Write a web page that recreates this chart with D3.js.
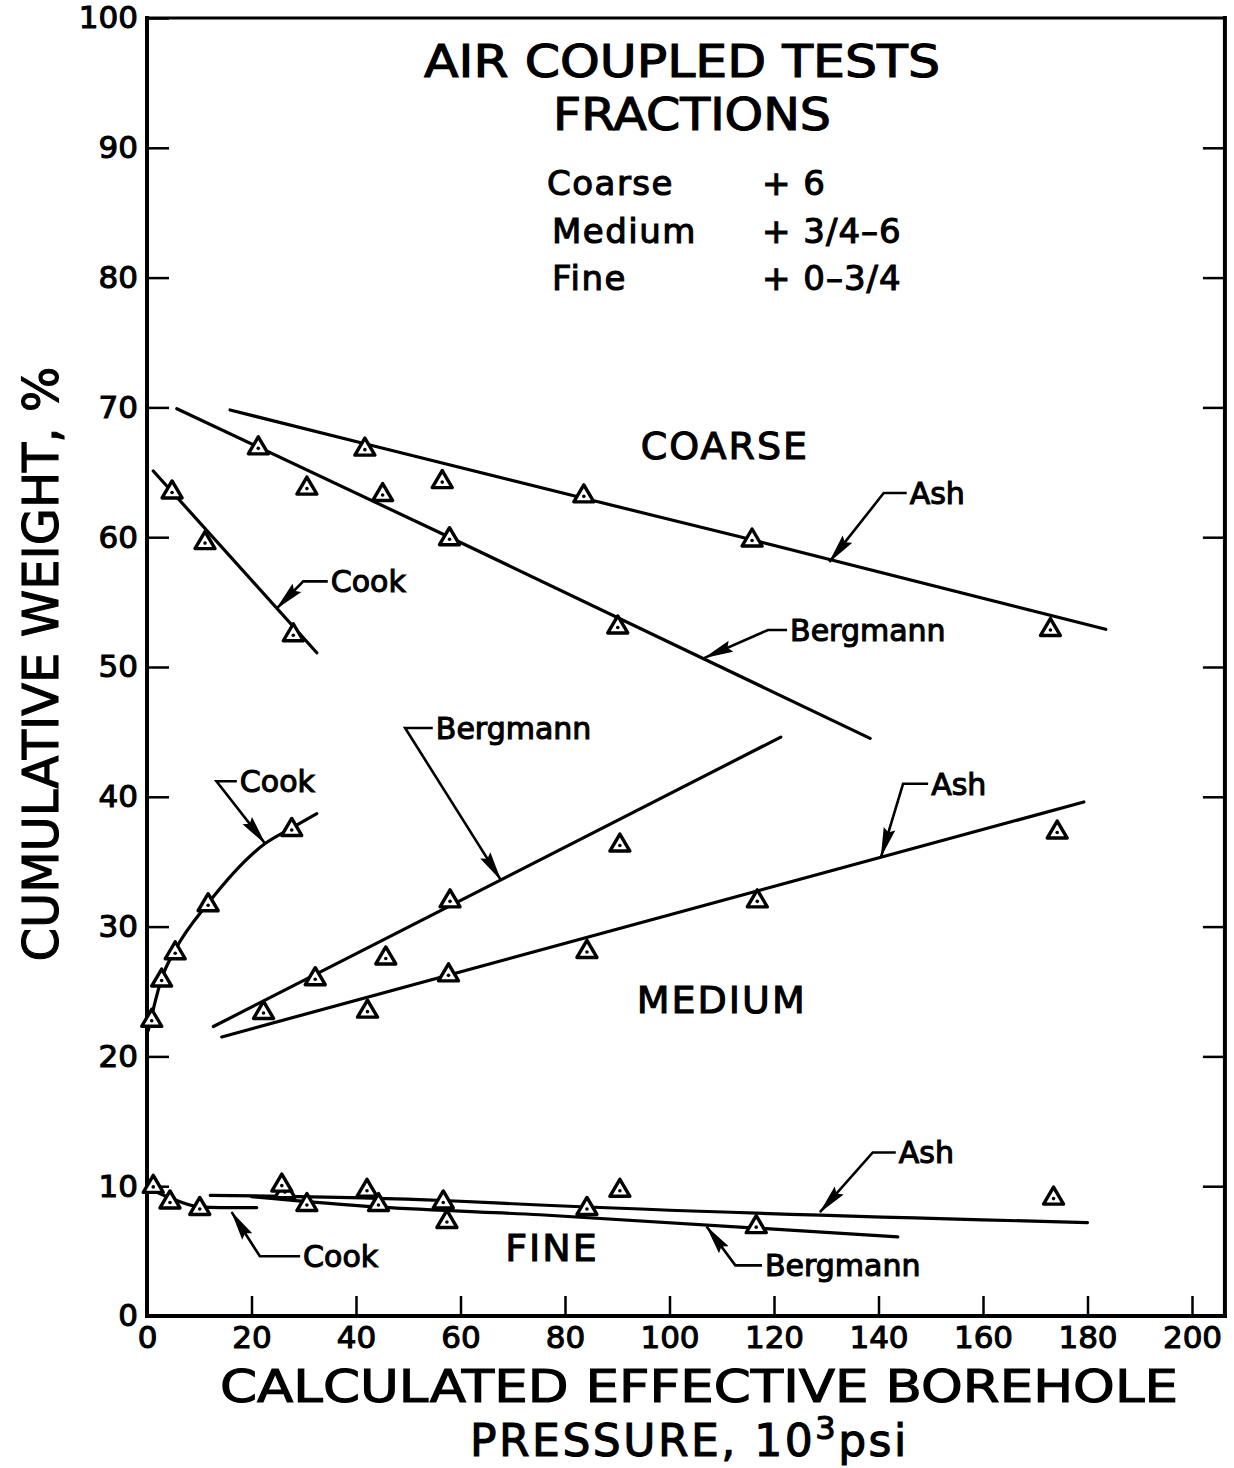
<!DOCTYPE html>
<html>
<head>
<meta charset="utf-8">
<script src="https://cdn.jsdelivr.net/npm/d3@7"></script>
<style>
  html, body { margin: 0; padding: 0; background: #fff; }
  svg { display: block; }
  text { font-family: "DejaVu Sans", sans-serif; fill: #000; stroke: #000; stroke-width: 1.1px; }
</style>
</head>
<body>
<script>
// ---------------- DATA (x = 10^3 psi, y = cumulative weight %) ----------------
const xTickValues = [0, 20, 40, 60, 80, 100, 120, 140, 160, 180, 200];
const yTickValues = [0, 10, 20, 30, 40, 50, 60, 70, 80, 90, 100];
const rightTickValues = [10, 20, 30, 40, 50, 60, 70, 80, 90];
const xFrameMax = 206.3;

// measured points (triangles)
const coarseCookPts = [[4.8, 63.6], [11.1, 59.7], [28.0, 52.6]];
const coarseBergmannPts = [[21.3, 67.0], [30.6, 63.9], [45.1, 63.4], [57.9, 60.0], [90.1, 53.2]];
const coarseAshPts = [[41.7, 66.9], [56.5, 64.4], [83.6, 63.3], [115.8, 59.9], [172.9, 53.0]];
const mediumCookPts = [[0.9, 22.9], [2.8, 26.0], [5.4, 28.1], [11.7, 31.8], [27.7, 37.6]];
const mediumBergmannPts = [[22.3, 23.5], [32.2, 26.1], [45.7, 27.7], [58.0, 32.1], [90.5, 36.4]];
const mediumAshPts = [[42.2, 23.6], [57.7, 26.4], [84.2, 28.2], [116.8, 32.1], [174.2, 37.4]];
const fineCookPts = [[1.2, 10.1], [4.4, 8.9], [10.1, 8.4]];
const fineBergmannPts = [[26.4, 9.7], [30.6, 8.7], [44.3, 8.7], [57.4, 7.4], [116.6, 7.0]];
const fineAshPts = [[25.8, 10.2], [42.1, 9.8], [56.7, 8.9], [84.2, 8.4], [90.5, 9.8], [173.5, 9.2]];

// hand-fitted curves
const coarseCookFit = [[1.2, 65.1], [32.5, 51.1]];
const coarseBergmannFit = [[5.7, 69.9], [57.9, 60.0], [138.4, 44.5]];
const coarseAshFit = [[15.9, 69.8], [41.7, 67.2], [83.6, 63.0], [115.8, 59.8], [183.5, 52.9]];
const mediumCookFit = [[0.25, 22.0], [2.8, 26.0], [5.4, 28.2], [11.7, 31.8], [22.6, 36.4], [27.7, 37.6], [32.5, 38.7]];
const mediumBergmannFit = [[12.7, 22.3], [121.3, 44.6]];
const mediumAshFit = [[14.3, 21.5], [179.3, 39.6]];
const fineCookFit = [[0.0, 9.9], [4.4, 9.1], [10.1, 8.4], [14.0, 8.35], [21.0, 8.35]];
const fineBergmannFit = [[20.0, 9.2], [44.2, 8.4], [75.2, 7.8], [143.7, 6.1]];
const fineAshFit = [[12.1, 9.3], [56.7, 8.9], [75.2, 8.55], [180.0, 7.2]];

// leader annotations: [label end, elbow, arrow tip]
const leaderLabels = ["Cook", "Bergmann", "Ash", "Cook", "Bergmann", "Ash", "Cook", "Bergmann", "Ash"];
const leaderPaths = [
  [[34.6, 56.6], [29.9, 56.6], [24.8, 54.5]],
  [[122.5, 52.85], [118.85, 52.85], [106.7, 50.7]],
  [[145.4, 63.4], [141.0, 63.4], [130.6, 58.1]],
  [[17.2, 41.2], [13.3, 41.2], [22.6, 36.4]],
  [[54.7, 45.3], [49.4, 45.3], [67.7, 33.6]],
  [[149.5, 41.0], [144.7, 41.0], [140.5, 35.4]],
  [[29.3, 4.6], [21.6, 4.6], [16.2, 8.0]],
  [[117.7, 3.9], [112.6, 3.9], [107.1, 6.9]],
  [[143.3, 12.6], [138.9, 12.6], [128.8, 8.0]]
];

const regionLabels = ["COARSE", "MEDIUM", "FINE"];
const regionCenters = [[110.6, 67.1], [110.0, 24.4], [77.5, 5.3]];

const titleLines = ["AIR COUPLED TESTS", "FRACTIONS"];
const fractionNames = ["Coarse", "Medium", "Fine"];
const fractionSizes = ["+ 6", "+ 3/4\u20136", "+ 0\u20133/4"];

// ---------------- CHART ----------------
const W = 1234, H = 1468;
const svg = d3.select("body").append("svg").attr("width", W).attr("height", H);

const x = d3.scaleLinear().domain([0, 200]).range([147, 1192]);
const y = d3.scaleLinear().domain([0, 100]).range([1316, 18]);

const defs = svg.append("defs");
defs.append("marker")
  .attr("id", "arrow")
  .attr("viewBox", "0 0 30 13")
  .attr("refX", 29).attr("refY", 6.5)
  .attr("markerWidth", 30).attr("markerHeight", 13)
  .attr("markerUnits", "userSpaceOnUse")
  .attr("orient", "auto")
  .append("path")
  .attr("d", "M0,0.5 L30,6.5 L0,12.5 L4,6.5 Z")
  .attr("fill", "#000");

// frame
const frame = svg.append("g").attr("stroke", "#000").attr("stroke-linecap", "square");
frame.append("line").attr("x1", x(0)).attr("x2", x(0)).attr("y1", y(0)).attr("y2", y(100)).attr("stroke-width", 4);
frame.append("line").attr("x1", x(0)).attr("x2", x(xFrameMax)).attr("y1", y(100)).attr("y2", y(100)).attr("stroke-width", 3);
frame.append("line").attr("x1", x(xFrameMax)).attr("x2", x(xFrameMax)).attr("y1", y(0)).attr("y2", y(100)).attr("stroke-width", 4);
frame.append("line").attr("x1", x(0)).attr("x2", x(xFrameMax)).attr("y1", y(0)).attr("y2", y(0)).attr("stroke-width", 4);

function styleAxis(g) {
  g.select(".domain").remove();
  g.selectAll(".tick line").attr("stroke", "#000").attr("stroke-width", 2.5);
  g.selectAll(".tick text").attr("fill", "#000").style("font-family", '"DejaVu Sans", sans-serif').style("font-size", "31px");
}

svg.append("g").attr("transform", `translate(${x(0)},0)`)
  .call(d3.axisLeft(y).tickValues(yTickValues).tickSize(-22).tickPadding(9).tickFormat(d3.format("d")))
  .call(styleAxis);

svg.append("g").attr("transform", `translate(${x(xFrameMax)},0)`)
  .call(d3.axisRight(y).tickValues(rightTickValues).tickSize(-22).tickFormat(""))
  .call(styleAxis);

const xAxisG = svg.append("g").attr("transform", `translate(0,${y(0)})`)
  .call(d3.axisBottom(x).tickValues(xTickValues).tickSize(-20).tickPadding(10).tickFormat(d3.format("d")))
  .call(styleAxis);
xAxisG.selectAll(".tick").filter(d => d === 0).select("line").remove();

// fitted lines
const lineGen = d3.line().x(d => x(d[0])).y(d => y(d[1]));
const curveGen = d3.line().x(d => x(d[0])).y(d => y(d[1])).curve(d3.curveMonotoneX);
const fits = [coarseCookFit, coarseBergmannFit, coarseAshFit, mediumCookFit, mediumBergmannFit, mediumAshFit,
  fineCookFit, fineBergmannFit, fineAshFit];
svg.append("g").selectAll("path").data(fits).join("path")
  .attr("d", d => curveGen(d))
  .attr("fill", "none").attr("stroke", "#000").attr("stroke-width", 3.2).attr("stroke-linecap", "round");

// leaders with arrows
const leaders = svg.append("g");
leaderPaths.forEach((pts, i) => {
  leaders.append("path")
    .attr("d", lineGen(pts))
    .attr("fill", "none").attr("stroke", "#000").attr("stroke-width", 2.6)
    .attr("stroke-linejoin", "miter")
    .attr("marker-end", "url(#arrow)");
  leaders.append("text")
    .attr("x", x(pts[0][0]) + 3).attr("y", y(pts[0][1]))
    .attr("dy", "0.36em")
    .style("font-size", "30px")
    .text(leaderLabels[i]);
});

// markers
const allPts = [].concat(coarseCookPts, coarseBergmannPts, coarseAshPts, mediumCookPts, mediumBergmannPts,
  mediumAshPts, fineCookPts, fineBergmannPts, fineAshPts);
const mk = svg.append("g").selectAll("g").data(allPts).join("g")
  .attr("transform", d => `translate(${x(d[0])},${y(d[1])})`);
mk.append("path")
  .attr("d", "M0,-9.5 L10,7.5 L-10,7.5 Z")
  .attr("fill", "#fff").attr("stroke", "#000").attr("stroke-width", 3.4).attr("stroke-linejoin", "round");
mk.append("circle").attr("cx", 0).attr("cy", 2).attr("r", 1.8).attr("fill", "#000");

// region labels
svg.append("g").selectAll("text").data(regionLabels).join("text")
  .attr("x", (d, i) => x(regionCenters[i][0])).attr("y", (d, i) => y(regionCenters[i][1]))
  .attr("dy", "0.36em").attr("text-anchor", "middle")
  .style("font-size", "38px").style("letter-spacing", "2px")
  .text(d => d);

// title block
svg.append("text").attr("x", 682).attr("y", 77).attr("text-anchor", "middle")
  .style("font-size", "44px").attr("textLength", 516).attr("lengthAdjust", "spacingAndGlyphs")
  .text(titleLines[0]);
svg.append("text").attr("x", 692).attr("y", 130).attr("text-anchor", "middle")
  .style("font-size", "44px").attr("textLength", 278).attr("lengthAdjust", "spacingAndGlyphs")
  .text(titleLines[1]);
const legRowY = [195, 243, 290];
svg.append("g").selectAll("text").data(fractionNames).join("text")
  .attr("x", (d, i) => i === 0 ? 547 : 552).attr("y", (d, i) => legRowY[i])
  .style("font-size", "34px").style("letter-spacing", "1.5px").text(d => d);
svg.append("g").selectAll("text").data(fractionSizes).join("text")
  .attr("x", 762).attr("y", (d, i) => legRowY[i])
  .style("font-size", "34px").style("letter-spacing", "1px").attr("xml:space", "preserve").text(d => d);

// axis titles
svg.append("text").attr("x", 699).attr("y", 1402).attr("text-anchor", "middle")
  .style("font-size", "44px").attr("textLength", 958).attr("lengthAdjust", "spacingAndGlyphs")
  .text("CALCULATED EFFECTIVE BOREHOLE");
const t2 = svg.append("text").attr("x", 470).attr("y", 1456).style("font-size", "44px").style("letter-spacing", "2.5px");
t2.append("tspan").text("PRESSURE, 10");
t2.append("tspan").attr("dy", -17).style("font-size", "32px").text("3");
t2.append("tspan").attr("dy", 17).text("psi");

svg.append("text")
  .attr("transform", "translate(58,664) rotate(-90)")
  .attr("text-anchor", "middle")
  .style("font-size", "50px").attr("textLength", 595).attr("lengthAdjust", "spacingAndGlyphs")
  .text("CUMULATIVE WEIGHT, %");
</script>
</body>
</html>
